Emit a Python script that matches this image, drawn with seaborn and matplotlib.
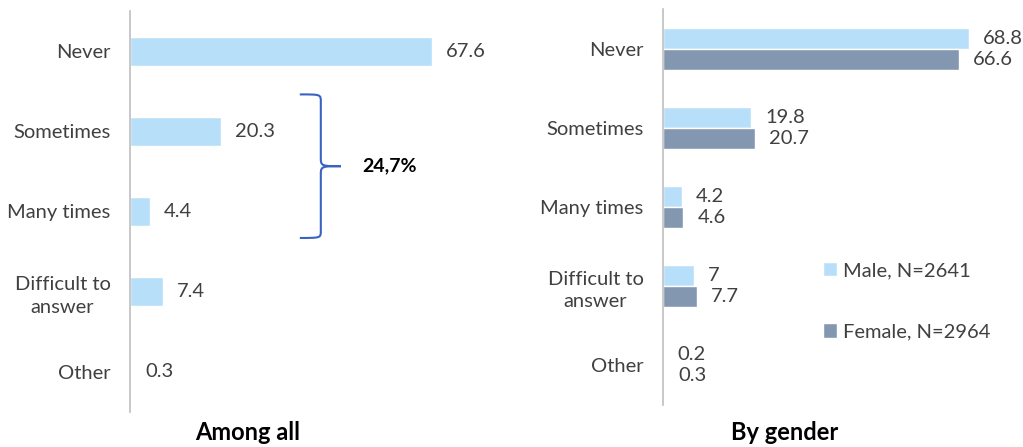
# two horizontal bar charts: answer shares among all respondents and by gender
import matplotlib.pyplot as plt
import seaborn as sns
import pandas as pd
from matplotlib.path import Path
from matplotlib.patches import PathPatch

categories = ["Never", "Sometimes", "Many times", "Difficult to\nanswer", "Other"]
all_values = [67.6, 20.3, 4.4, 7.4, 0.3]
male_values = [68.8, 19.8, 4.2, 7, 0.2]
female_values = [66.6, 20.7, 4.6, 7.7, 0.3]
genders = ["Male, N=2641", "Female, N=2964"]
bracket_items = ["Sometimes", "Many times"]

LIGHT = "#B8DFFA"
DARK = "#8497B0"
TEXT = "#404040"
BRACE = "#3A62C0"

sns.set_style("white")
plt.rcParams['font.family'] = ['Lato', 'DejaVu Sans']

fig = plt.figure(figsize=(10.23, 4.47), dpi=100)
ax1 = fig.add_axes([130 / 1023, 35 / 447, 370 / 1023, 401 / 447])
ax2 = fig.add_axes([663 / 1023, 42 / 447, 357 / 1023, 396 / 447])

# left: among all
sns.barplot(x=all_values, y=categories, orient='h', color=LIGHT,
            saturation=1, width=0.36, ax=ax1)
ax1.set_xlim(0, 82.8)

# right: by gender
df = pd.DataFrame({
    'answer': categories * 2,
    'share': male_values + female_values,
    'gender': [genders[0]] * len(categories) + [genders[1]] * len(categories),
})
sns.barplot(data=df, x='share', y='answer', hue='gender', hue_order=genders,
            palette={genders[0]: LIGHT, genders[1]: DARK}, saturation=1,
            width=0.53, orient='h', ax=ax2)
ax2.set_xlim(0, 80.2)

for ax in (ax1, ax2):
    sns.despine(ax=ax, bottom=True)
    ax.spines['left'].set_color('#BFBFBF')
    ax.spines['left'].set_linewidth(1.2)
    ax.set_xticks([])
    ax.set_xlabel('')
    ax.set_ylabel('')
    ax.tick_params(axis='y', length=0, pad=14, labelsize=14.5, labelcolor=TEXT)
    for lbl in ax.get_yticklabels():
        lbl.set_multialignment('center')
        lbl.set_linespacing(1.4)
    for c in ax.containers:
        ax.bar_label(c, labels=[f"{v:g}" for v in c.datavalues], padding=10,
                     fontsize=14.5, color=TEXT)

sns.move_legend(ax2, 'upper left', bbox_to_anchor=(823 / 1023, 1 - 262 / 447),
                bbox_transform=fig.transFigure, frameon=False, title=None,
                fontsize=14.5, labelspacing=2.2, handlelength=0.7,
                handleheight=0.7, handletextpad=0.3, borderpad=0,
                borderaxespad=0, labelcolor=TEXT)

# curly brace over "Sometimes" + "Many times"
idx = [categories.index(b) for b in bracket_items]
y_top, y_bot = idx[0] - 0.46, idx[-1] + 0.33
y_mid = (y_top + y_bot) / 2
x0, x1, x2 = 38.0, 42.7, 47.2
r = 0.09
verts = [
    (x0, y_top), (x1, y_top), (x1, y_top), (x1, y_top + r),
    (x1, y_mid - r),
    (x1, y_mid), (x1 + 0.5, y_mid), (x2, y_mid),
    (x1 + 0.5, y_mid), (x1, y_mid), (x1, y_mid + r),
    (x1, y_bot - r),
    (x1, y_bot), (x1, y_bot), (x0, y_bot),
]
codes = [Path.MOVETO, Path.CURVE4, Path.CURVE4, Path.CURVE4,
         Path.LINETO,
         Path.CURVE4, Path.CURVE4, Path.CURVE4,
         Path.CURVE4, Path.CURVE4, Path.CURVE4,
         Path.LINETO,
         Path.CURVE4, Path.CURVE4, Path.CURVE4]
ax1.add_patch(PathPatch(Path(verts, codes), facecolor='none',
                        edgecolor=BRACE, lw=1.5, clip_on=False))
total = sum(all_values[i] for i in idx)
ax1.text(51.9, y_mid, f"{total:.1f}%".replace('.', ','), ha='left',
         va='center', fontsize=14, fontweight='bold', color='black')

fig.text(248 / 1023, 1 - 433 / 447, "Among all", ha='center', va='center',
         fontsize=17, fontweight='bold', color='black')
fig.text(785 / 1023, 1 - 433 / 447, "By gender", ha='center', va='center',
         fontsize=17, fontweight='bold', color='black')

fig.savefig('out.png', dpi=100)
